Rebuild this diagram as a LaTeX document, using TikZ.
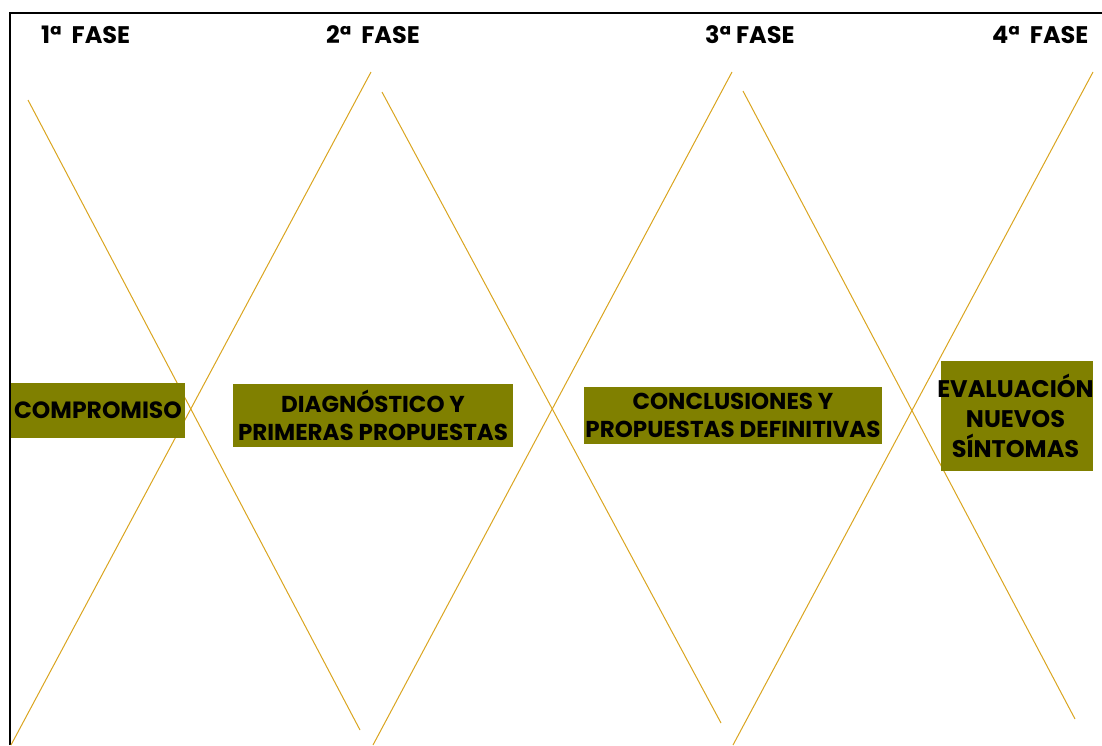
\documentclass[tikz,border=0pt]{standalone}
\usepackage{fontspec}
\setmainfont{Poppins}
\definecolor{linegold}{RGB}{218,165,32}
\definecolor{boxolive}{RGB}{128,128,0}
\begin{document}
\begin{tikzpicture}[x=1pt,y=-1pt,
  phase/.style={line width=1pt, draw=linegold},
  stage/.style={fill=boxolive, inner sep=0pt, text=black, align=center,
    font=\bfseries\fontsize{23.5}{28}\selectfont},
  head/.style={anchor=base west, inner sep=0pt, font=\bfseries\fontsize{24}{26}\selectfont},
  frame/.style={line width=2pt, draw=black}]
\useasboundingbox (0,0) rectangle (1102,745);
% frame
\draw[frame] (9.5,745) -- (9.5,12.5) -- (1102,12.5);
% crossing lines
\draw[phase] (28,100) -- (360,730);
\draw[phase] (11,745) -- (371,72);
\draw[phase] (382,92) -- (721,723);
\draw[phase] (373,745) -- (732,72);
\draw[phase] (743,91) -- (1075,719);
\draw[phase] (733,745) -- (1093,72);
% headings
\node[head] (h1) at (41,43) {1ª\ \ FASE};
\node[head] (h2) at (326,43) {2ª\ \ FASE};
\node[head] (h3) at (705,43) {3ª FASE};
\node[head] (h4) at (992,43) {4ª\ \ FASE};
% boxes
\node[stage, minimum width=174pt, minimum height=55pt] (b1) at (98,410.5) {COMPROMISO};
\node[stage, minimum width=280pt, minimum height=63pt, font=\bfseries\fontsize{23}{28}\selectfont] (b2) at (373,415.5) {DIAGNÓSTICO Y\\PRIMERAS PROPUESTAS};
\node[stage, minimum width=298pt, minimum height=57pt, font=\bfseries\fontsize{23}{28}\selectfont] (b3) at (733,415.5) {CONCLUSIONES Y\\PROPUESTAS DEFINITIVAS};
\node[stage, minimum width=152pt, minimum height=110pt] (b4) at (1017,416) {};
\node[text=black, align=center, inner sep=0pt, font=\bfseries\fontsize{24}{30}\selectfont] (t4) at (1015.5,416) {EVALUACIÓN\\NUEVOS\\SÍNTOMAS};
\end{tikzpicture}
\end{document}
